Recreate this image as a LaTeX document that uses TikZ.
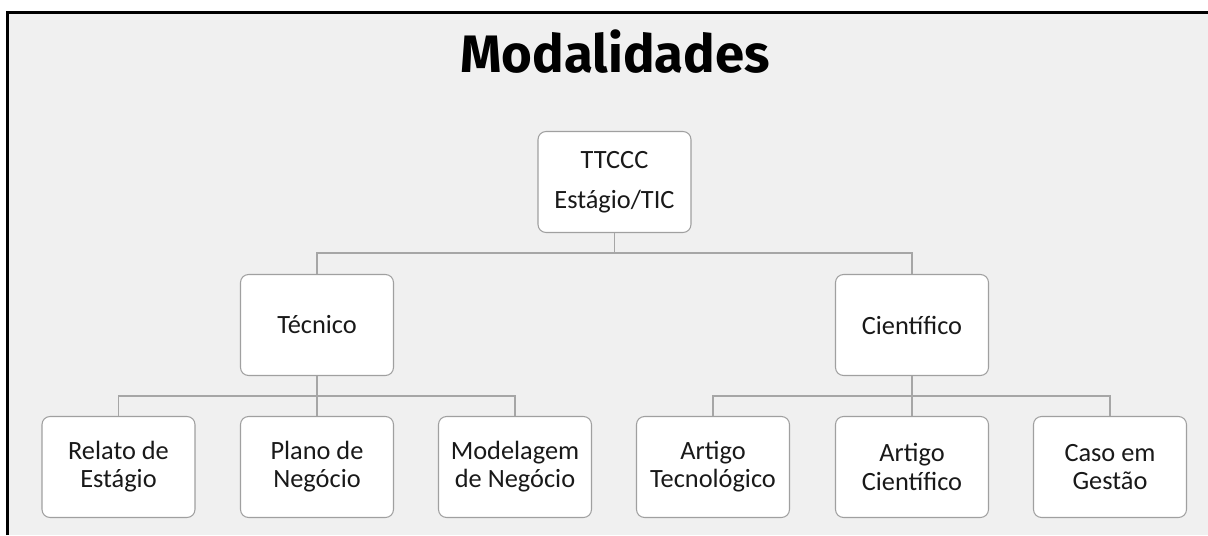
\documentclass[tikz,border=0pt]{standalone}
\usepackage{fontspec}
\setmainfont{Carlito}
\newfontfamily\titlefont{Fira Sans}

\definecolor{panelgray}{RGB}{240,240,240}
\definecolor{boxline}{RGB}{160,160,160}
\definecolor{linkgray}{RGB}{166,166,166}

\tikzset{
  modbox/.style={draw=boxline, fill=white, rounded corners=0.16cm, line width=0.6pt,
    minimum width=3.06cm, minimum height=2.02cm, align=center,
    font=\fontsize{15}{16}\selectfont, text=black!90},
  link/.style={draw=linkgray, line width=0.7pt}
}

\begin{document}
\begin{tikzpicture}[x=0.02cm, y=0.02cm]
            \useasboundingbox (0,0) rectangle (1208,535);
            \fill[panelgray] (7,0) rectangle (1208,523);
            \draw[line width=1.2pt] (7.5,0) -- (7.5,522.5) -- (1208,522.5);

            \node[anchor=base, font=\titlefont\bfseries\fontsize{30}{36}\selectfont] (title)
                at (615,462) {Modalidades};

            \node[modbox] (ttccc) at (614.5,353) {TTCCC\\[7pt]Estágio/TIC};
            \node[modbox] (tecnico) at (317,210) {Técnico};
            \node[modbox] (cientifico) at (912,210) {Científico};

            \foreach \name/\x/\txt in {relato/118.5/{Relato de\\Estágio},
                plano/317/{Plano de\\Negócio}, modelagem/515/{Modelagem\\de Negócio},
                tecno/713/{Artigo\\Tecnológico}, artigo/912/{Artigo\\Científico},
                caso/1110/{Caso em\\Gestão}}{
                \node[modbox] (\name) at (\x,68) {\txt};
            }

            \coordinate (barA) at (614.5,282);
            \coordinate (barB) at (317,139);
            \coordinate (barC) at (912,139);

            \draw[link] (ttccc.south) -- (barA);
            \draw[link] (tecnico.north) |- (barA) -| (cientifico.north);

            \draw[link] (tecnico.south) -- (barB);
            \draw[link] (relato.north) |- (barB) -| (modelagem.north);
            \draw[link] (plano.north) -- (barB);

            \draw[link] (cientifico.south) -- (barC);
            \draw[link] (tecno.north) |- (barC) -| (caso.north);
            \draw[link] (artigo.north) -- (barC);
        \end{tikzpicture}
\end{document}
